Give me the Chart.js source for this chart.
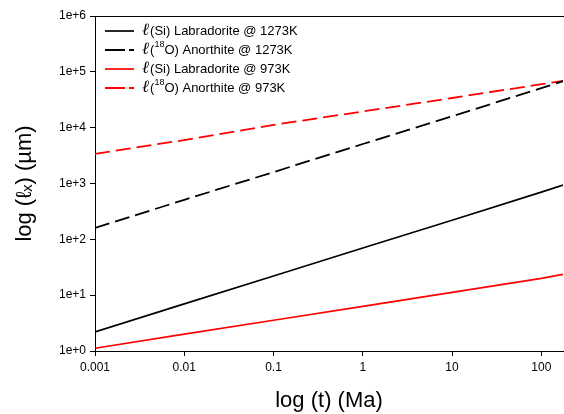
<!DOCTYPE html>
<html>
<head>
<meta charset="utf-8">
<script src="https://cdn.jsdelivr.net/npm/chart.js@4/dist/chart.umd.min.js"></script>
<style>
  html, body { margin: 0; padding: 0; background: #fff; }
  #wrap { width: 564px; height: 414px; position: relative; }
</style>
</head>
<body>
<div id="wrap"><canvas id="chart"></canvas></div>
<script>
const times = [0.001, 0.01, 0.1, 1, 10, 100, 175];

// diffusion length values (um)
const siLab1273 = [2.2, 7.0, 22, 70, 220, 700, 940];
const oAno1273 = [160, 510, 1600, 5100, 16000, 51000, 68000];
const siLab973 = [1.12, 2.0, 3.55, 6.3, 11.2, 20, 23.5];
const oAno973 = [3400, 6000, 11200, 19500, 34000, 60000, 69000];

const xTicks = [0.001, 0.01, 0.1, 1, 10, 100];
const xTickLabels = ['0.001', '0.01', '0.1', '1', '10', '100'];
const yTicks = [1, 10, 100, 1000, 10000, 100000, 1000000];

const FONT = "'Liberation Sans', Arial, sans-serif";

function toPoints(vals) {
  return times.map((t, i) => ({ x: t, y: vals[i] }));
}

// legend drawn inside the plot (top-left)
const legendItems = [
  { label: '(Si) Labradorite @ 1273K', sup: null },
  { label: 'Anorthite @ 1273K', sup: '18' },
  { label: '(Si) Labradorite @ 973K', sup: null },
  { label: 'Anorthite @ 973K', sup: '18' }
];

const insideLegend = {
  id: 'insideLegend',
  afterDraw(chart) {
    const ctx = chart.ctx;
    ctx.save();
    chart.data.datasets.forEach((ds, i) => {
      var y = 31 + i * 19;
      ctx.strokeStyle = ds.borderColor;
      ctx.lineWidth = ds.borderWidth;
      ctx.setLineDash(ds.borderDash && ds.borderDash.length ? [20, 4] : []);
      ctx.beginPath();
      ctx.moveTo(105, y);
      ctx.lineTo(134, y);
      ctx.stroke();
      ctx.setLineDash([]);

      ctx.fillStyle = '#000';
      ctx.textBaseline = 'middle';
      ctx.textAlign = 'left';
      var x = 142;
      ctx.font = "italic 17px 'DejaVu Serif', serif";
      ctx.fillText('ℓ', x, y);
      x += ctx.measureText('ℓ').width + 1;
      ctx.font = '13px ' + FONT;
      var item = legendItems[i];
      if (item.sup) {
        ctx.fillText('(', x, y);
        x += ctx.measureText('(').width;
        ctx.font = '9px ' + FONT;
        ctx.fillText(item.sup, x, y - 5);
        x += ctx.measureText(item.sup).width;
        ctx.font = '13px ' + FONT;
        ctx.fillText('O) ' + item.label, x, y);
      } else {
        ctx.fillText(item.label, x, y);
      }
    });

    // top frame line
    const a = chart.chartArea;
    ctx.strokeStyle = '#000';
    ctx.lineWidth = 1;
    ctx.beginPath();
    ctx.moveTo(a.left, a.top + 0.5);
    ctx.lineTo(564, a.top + 0.5);
    ctx.stroke();
    ctx.restore();
  }
};

const ctx = document.getElementById('chart').getContext('2d');
new Chart(ctx, {
  type: 'line',
  data: {
    datasets: [
      { label: 'Si Labradorite 1273K', data: toPoints(siLab1273), borderColor: '#000000', borderWidth: 1.7, borderDash: [] },
      { label: '18O Anorthite 1273K', data: toPoints(oAno1273), borderColor: '#000000', borderWidth: 1.8, borderDash: [15, 6] },
      { label: 'Si Labradorite 973K', data: toPoints(siLab973), borderColor: '#ff0000', borderWidth: 1.7, borderDash: [] },
      { label: '18O Anorthite 973K', data: toPoints(oAno973), borderColor: '#ff0000', borderWidth: 1.8, borderDash: [15, 6] }
    ]
  },
  options: {
    responsive: true,
    maintainAspectRatio: false,
    animation: false,
    elements: { point: { radius: 0 }, line: { tension: 0 } },
    layout: { padding: { top: 16, right: 1, left: 0, bottom: 0 } },
    plugins: { legend: { display: false }, tooltip: { enabled: false } },
    scales: {
      x: {
        type: 'logarithmic',
        min: 0.001,
        max: 175,
        afterBuildTicks: (s) => { s.ticks = xTicks.map(v => ({ value: v })); },
        afterFit: (s) => { s.height = 63; },
        ticks: {
          color: '#000',
          font: { family: FONT, size: 12 },
          padding: 4,
          maxRotation: 0,
          autoSkip: false,
          callback: (v) => { const i = xTicks.indexOf(v); return i >= 0 ? xTickLabels[i] : ''; }
        },
        grid: { display: true, drawOnChartArea: false, color: '#000', tickLength: 5 },
        border: { color: '#000', width: 1 },
        title: {
          display: true,
          text: 'log (t) (Ma)',
          color: '#000',
          font: { family: FONT, size: 22 },
          padding: { top: 9, bottom: 0 }
        }
      },
      y: {
        type: 'logarithmic',
        min: 1,
        max: 1000000,
        afterBuildTicks: (s) => { s.ticks = yTicks.map(v => ({ value: v })); },
        afterFit: (s) => { s.width = 95; },
        ticks: {
          color: '#000',
          font: { family: FONT, size: 12 },
          padding: 4,
          autoSkip: false,
          callback: (v) => '1e+' + Math.round(Math.log10(v))
        },
        grid: { display: true, drawOnChartArea: false, color: '#000', tickLength: 5 },
        border: { color: '#000', width: 1 },
        title: {
          display: true,
          text: 'log (ℓₓ) (µm)',
          color: '#000',
          font: { family: FONT, size: 22 },
          padding: { top: 12, bottom: 0 }
        }
      }
    }
  },
  plugins: [insideLegend]
});
</script>
</body>
</html>
